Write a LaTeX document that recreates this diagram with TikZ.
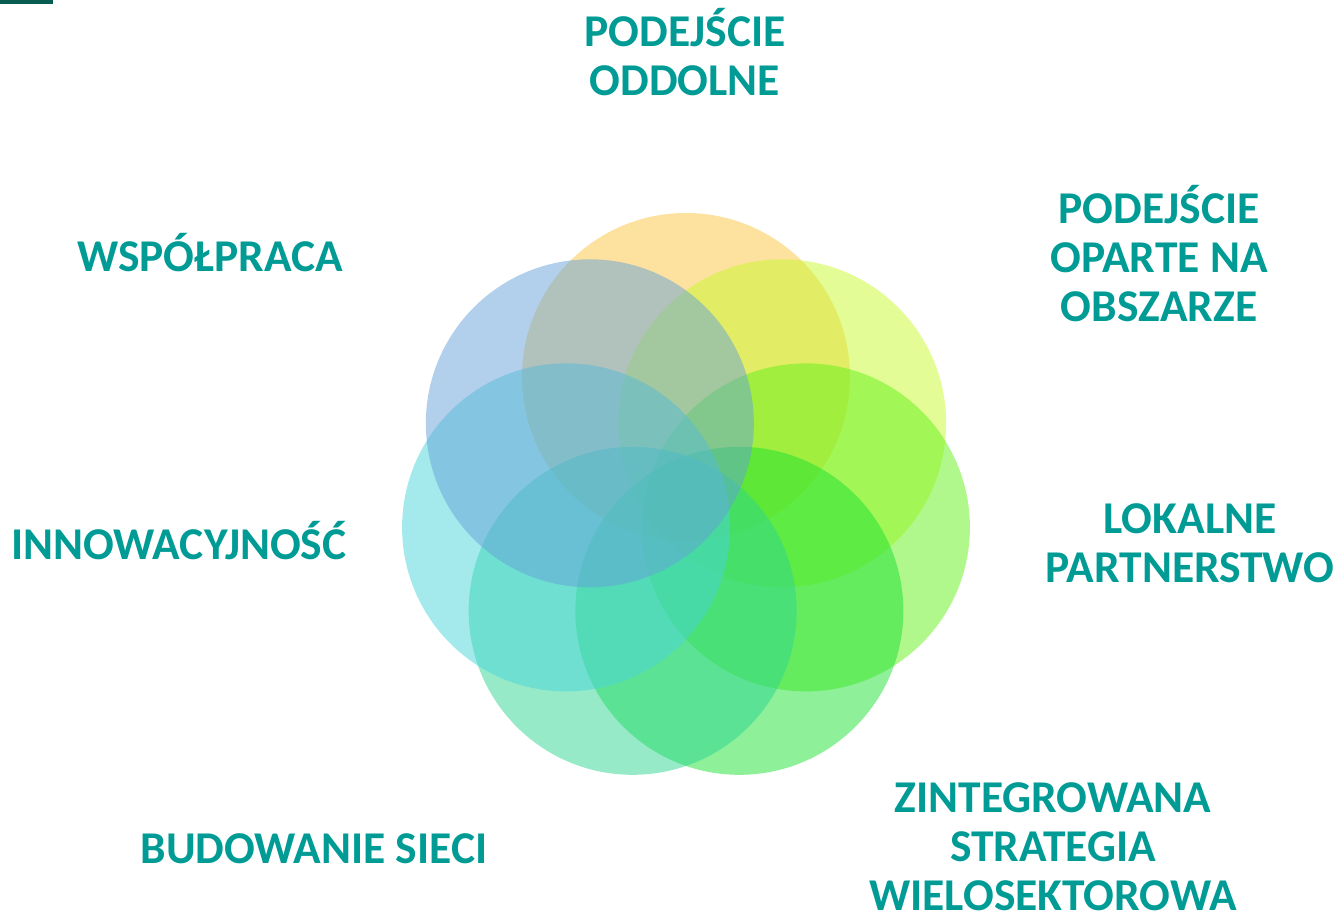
\documentclass[tikz,border=0pt]{standalone}
\usepackage{fontspec}
\setmainfont{Carlito}
\definecolor{slogantext}{RGB}{0,155,149}
\definecolor{cornerbar}{RGB}{8,92,80}
\definecolor{petalA}{RGB}{251,195,61}
\definecolor{petalB}{RGB}{201,249,45}
\definecolor{petalC}{RGB}{97,241,25}
\definecolor{petalD}{RGB}{29,225,49}
\definecolor{petalE}{RGB}{45,213,145}
\definecolor{petalF}{RGB}{73,213,217}
\definecolor{petalG}{RGB}{101,161,217}
\begin{document}
\begin{tikzpicture}[x=1pt,y=-1pt,
  slogan/.style={font=\fontsize{45.5}{49}\selectfont\bfseries,text=slogantext,align=center,inner sep=0pt,anchor=base}]
 \useasboundingbox (0,0) rectangle (1338,917);
 \fill[cornerbar] (0,0) rectangle (53,4);
 \coordinate (C) at (686,500);
 \foreach \a/\c in {%
   -90/petalA, -38.57/petalB, 12.86/petalC, 64.29/petalD,
   115.71/petalE, 167.14/petalF, 218.57/petalG}{%
 \fill[\c,fill opacity=0.5] (C) ++(\a:123) circle[radius=164];
 }%
 % base anchor sits on the last line
 \node[slogan] (oddolne) at (685,96) {PODEJŚCIE\\ODDOLNE};
 \node[slogan] (obszar) at (1159,321) {PODEJŚCIE\\OPARTE NA\\OBSZARZE};
 \node[slogan] (wspolpraca) at (210,272) {WSPÓŁPRACA};
 \node[slogan] (partnerstwo) at (1190,582) {LOKALNE\\PARTNERSTWO};
 \node[slogan] (innowacje) at (179,559) {INNOWACYJNOŚĆ};
 \node[slogan] (strategia) at (1053,910) {ZINTEGROWANA\\STRATEGIA\\WIELOSEKTOROWA};
 \node[slogan] (sieci) at (314,863) {BUDOWANIE SIECI};
\end{tikzpicture}
\end{document}
